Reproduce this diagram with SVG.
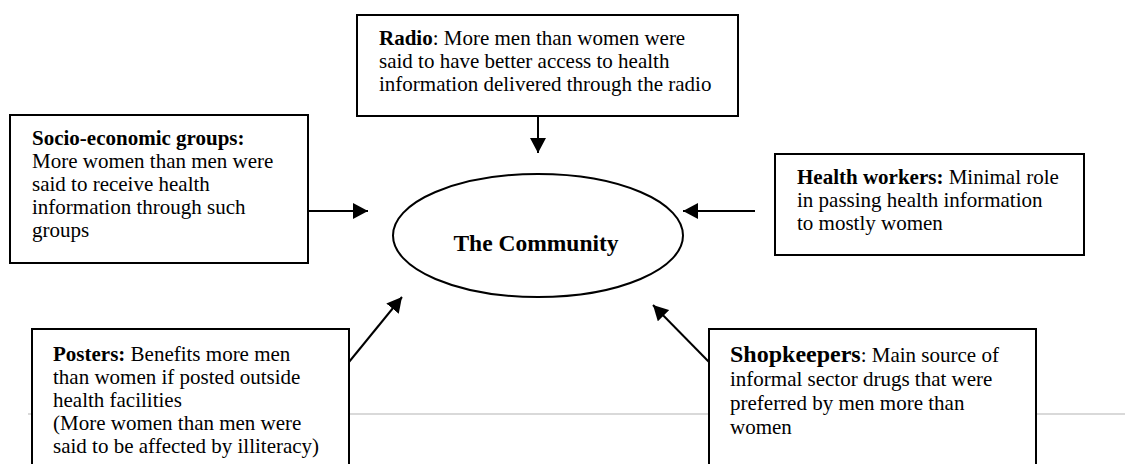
<svg xmlns="http://www.w3.org/2000/svg" width="1134" height="464" viewBox="0 0 1134 464">
  <defs>
    <marker id="arrow" viewBox="0 0 15 16" refX="15" refY="8" markerWidth="15" markerHeight="16" markerUnits="userSpaceOnUse" orient="auto">
      <path d="M0,0 L15,8 L0,16 z" fill="#000"/>
    </marker>
  </defs>
  <style>
    .box { fill: #fff; stroke: #000; stroke-width: 2; }
    .t { font-family: "Liberation Serif", "Times New Roman", serif; font-size: 21px; fill: #000; }
    .b { font-weight: bold; }
    .conn { stroke: #000; stroke-width: 2; fill: none; marker-end: url(#arrow); }
  </style>
  <rect x="0" y="0" width="1134" height="464" fill="#fff"/>
  <line x1="28" y1="414" x2="1125" y2="414" stroke="#d9d9d9" stroke-width="2"/>

  <g id="radio">
    <rect class="box" x="357" y="15" width="381" height="101"/>
    <text class="t" x="379" y="45"><tspan class="b">Radio</tspan>: More men than women were</text>
    <text class="t" x="379" y="68">said to have better access to health</text>
    <text class="t" x="379" y="91">information delivered through the radio</text>
  </g>

  <g id="socio">
    <rect class="box" x="10" y="115" width="298" height="148"/>
    <text class="t" x="32" y="145"><tspan class="b">Socio-economic groups:</tspan></text>
    <text class="t" x="32" y="168">More women than men were</text>
    <text class="t" x="32" y="191">said to receive health</text>
    <text class="t" x="32" y="214">information through such</text>
    <text class="t" x="32" y="237">groups</text>
  </g>

  <g id="health">
    <rect class="box" x="775" y="154" width="309" height="101"/>
    <text class="t" x="797" y="184"><tspan class="b">Health workers:</tspan> Minimal role</text>
    <text class="t" x="797" y="207">in passing health information</text>
    <text class="t" x="797" y="230">to mostly women</text>
  </g>

  <g id="community">
    <ellipse cx="538" cy="235.5" rx="145" ry="61.5" fill="#fff" stroke="#000" stroke-width="2"/>
    <text x="536" y="251" text-anchor="middle" font-family="Liberation Serif, Times New Roman, serif" font-size="23.5" font-weight="bold">The Community</text>
  </g>

  <g id="posters">
    <rect class="box" x="32" y="329" width="317" height="150"/>
    <text class="t" x="53" y="361"><tspan class="b">Posters:</tspan> Benefits more men</text>
    <text class="t" x="53" y="384">than women if posted outside</text>
    <text class="t" x="53" y="407">health facilities</text>
    <text class="t" x="53" y="430">(More women than men were</text>
    <text class="t" x="53" y="453">said to be affected by illiteracy)</text>
  </g>

  <g id="shopkeepers">
    <rect class="box" x="709" y="329" width="327" height="150"/>
    <text class="t" x="730" y="362"><tspan class="b" font-size="24">Shopkeepers</tspan>: Main source of</text>
    <text class="t" x="730" y="386">informal sector drugs that were</text>
    <text class="t" x="730" y="410">preferred by men more than</text>
    <text class="t" x="730" y="434">women</text>
  </g>

  <g id="connectors">
    <line class="conn" x1="538" y1="116" x2="538" y2="153"/>
    <line class="conn" x1="308" y1="211" x2="368" y2="211"/>
    <line class="conn" x1="755" y1="211" x2="683" y2="211"/>
    <line class="conn" x1="349" y1="362" x2="402" y2="297"/>
    <line class="conn" x1="709" y1="362" x2="653" y2="305"/>
  </g>
</svg>
